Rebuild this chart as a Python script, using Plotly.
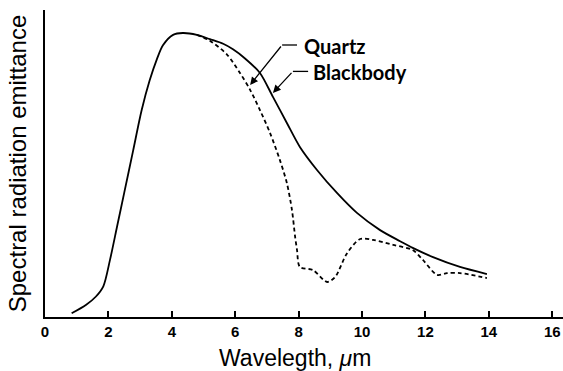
import plotly.graph_objects as go

# Blackbody curve (wavelength in um, relative emittance)
bb_x = [0.84, 1.3, 1.6, 1.84, 2.05, 2.27, 2.5, 2.78, 3.05, 3.3, 3.53, 3.72,
        4.04, 4.35, 4.79, 5.2, 5.62, 5.93, 6.3, 6.78, 7.19, 7.63, 8.04, 8.58, 9.21,
        9.84, 10.57, 11.2, 11.6, 12.24, 13.09, 13.94]
bb_y = [0.012, 0.04, 0.066, 0.1, 0.186, 0.293, 0.405, 0.542, 0.674, 0.77, 0.84, 0.885,
        0.919, 0.925, 0.919, 0.905, 0.89, 0.872, 0.843, 0.795, 0.717,
        0.632, 0.554, 0.479, 0.404, 0.339, 0.283, 0.247, 0.225, 0.195, 0.163, 0.14]

# Quartz curve (diverges from blackbody after ~5 um)
qz_x = [4.79, 5.2, 5.74, 6.15, 6.47, 6.78, 7.1, 7.41, 7.63, 7.79, 7.89, 7.95, 8.04,
        8.45, 8.9, 9.15, 9.53, 9.94, 10.35, 10.98, 11.6, 11.92, 12.37, 12.68, 13.09, 13.94]
qz_y = [0.919, 0.9, 0.855, 0.795, 0.74, 0.674, 0.599, 0.511, 0.436, 0.349, 0.261,
        0.218, 0.163, 0.153, 0.114, 0.13, 0.208, 0.254, 0.251, 0.235, 0.218, 0.186,
        0.137, 0.143, 0.143, 0.127]

x_ticks = [0, 2, 4, 6, 8, 10, 12, 14, 16]

fig = go.Figure()
fig.add_trace(go.Scatter(x=bb_x, y=bb_y, mode="lines",
                         line=dict(color="black", width=1.8, shape="spline", smoothing=0.8),
                         name="Blackbody", showlegend=False))
fig.add_trace(go.Scatter(x=qz_x, y=qz_y, mode="lines",
                         line=dict(color="black", width=1.8, dash="4px,3px", shape="spline", smoothing=0.8),
                         name="Quartz", showlegend=False))

# Leader lines: elbow (horizontal part) + arrow (diagonal part)
labels = [
    dict(text="Quartz", tx=8.1, ty=0.883, ex=7.48, ey=0.886, hx=7.95, px=6.47, py=0.756),
    dict(text="Blackbody", tx=8.4, ty=0.798, ex=7.82, ey=0.80, hx=8.3, px=7.19, py=0.73),
]
for lb in labels:
    fig.add_shape(type="line", x0=lb["ex"], y0=lb["ey"], x1=lb["hx"], y1=lb["ey"],
                  line=dict(color="black", width=1.3))
    fig.add_annotation(x=lb["px"], y=lb["py"], ax=lb["ex"], ay=lb["ey"], axref="x", ayref="y",
                       text="", showarrow=True, arrowhead=2, arrowsize=1.2, arrowwidth=1.3,
                       arrowcolor="black")
    fig.add_annotation(x=lb["tx"], y=lb["ty"], text="<b>" + lb["text"] + "</b>", showarrow=False,
                       xanchor="left", yanchor="middle",
                       font=dict(family="Lato", size=20, color="black"))

# x-axis title placed as annotation (slightly left of plot centre, as in the reference)
fig.add_annotation(x=0.483, y=-0.133, xref="paper", yref="paper", text="Wavelegth, <i>μ</i>m",
                   showarrow=False, xanchor="center", yanchor="middle",
                   font=dict(family="Liberation Sans", size=23, color="black"))

fig.update_layout(
    width=563, height=371,
    margin=dict(l=45, r=0, t=10, b=54),
    plot_bgcolor="white", paper_bgcolor="white",
    xaxis=dict(range=[0, 16.34], tickvals=x_ticks, ticktext=[str(v) for v in x_ticks],
               showgrid=False, zeroline=False, showline=True, linecolor="black", linewidth=2,
               ticks="inside", ticklen=6, tickwidth=2, tickcolor="black",
               tickfont=dict(family="Liberation Sans", size=15, color="black", weight="bold")),
    yaxis=dict(range=[0, 1], showgrid=False, zeroline=False, showline=True, linecolor="black",
               linewidth=2, ticks="", showticklabels=False,
               title=dict(text="Spectral radiation emittance", standoff=10,
                          font=dict(family="Liberation Sans", size=24, color="black"))),
)

fig.write_html("out.html")
